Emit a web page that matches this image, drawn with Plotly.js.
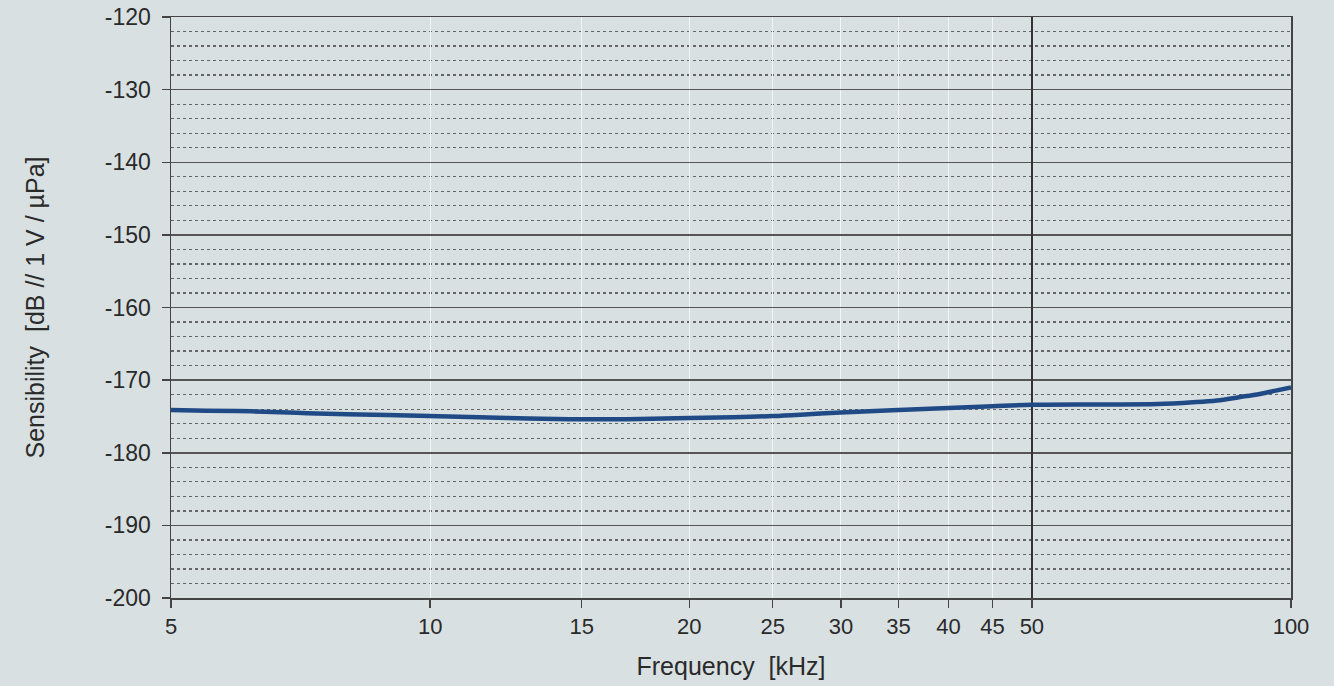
<!DOCTYPE html>
<html>
<head>
<meta charset="utf-8">
<script src="https://cdn.plot.ly/plotly-3.0.1.min.js"></script>
<style>html,body{margin:0;padding:0;background:#d8e0e2;}#chart{width:1334px;height:686px;}</style>
</head>
<body>
<div id="chart"></div>
<script>
const freqKHz = [5, 5.5, 6.2, 7.0, 8.0, 9.7, 11.4, 13.0, 15, 17.5, 20, 22.5, 25, 27.5, 30, 35, 40, 45, 50, 60, 70, 77, 82, 87, 92, 96, 100];
const sensDb  = [-174.1, -174.2, -174.3, -174.5, -174.7, -174.9, -175.1, -175.3, -175.4, -175.35, -175.2, -175.1, -174.95, -174.7, -174.45, -174.1, -173.85, -173.6, -173.4, -173.35, -173.3, -173.05, -172.8, -172.35, -171.9, -171.45, -171.0];
const xTicks = [5, 10, 15, 20, 25, 30, 35, 40, 45, 50, 100];
const yTicks = [-200, -190, -180, -170, -160, -150, -140, -130, -120];
const yTickLabels = ['-200', '-190', '-180', '-170', '-160', '-150', '-140', '-130', '-120'];

const font = {family: 'Liberation Sans, Arial, sans-serif', color: '#2a2a2a'};
Plotly.newPlot('chart', [
  {x: freqKHz, y: sensDb, type: 'scatter', mode: 'lines', line: {color: '#1f4a85', width: 4.5, shape: 'spline'}, hoverinfo: 'skip', showlegend: false},
  {x: [50, 50], y: [-200, -120], xaxis: 'x2', type: 'scatter', mode: 'lines', line: {color: 'rgba(0,0,0,0)', width: 0}, hoverinfo: 'skip', showlegend: false}
], {
  width: 1334, height: 686,
  paper_bgcolor: '#d8e0e2', plot_bgcolor: '#d8e0e2',
  margin: {l: 171, r: 43, t: 17, b: 88},
  font: font,
  xaxis: {
    type: 'log', range: [Math.log10(5), Math.log10(100)],
    tickvals: xTicks, ticktext: xTicks.map(String),
    ticks: 'outside', ticklen: 8, tickcolor: '#444', tickwidth: 1.5,
    tickfont: {size: 22, color: '#2a2a2a'},
    showgrid: true, gridcolor: '#f2f5f5', gridwidth: 1,
    showline: true, linecolor: '#444', linewidth: 1.5, mirror: true,
    zeroline: false,
    title: {text: 'Frequency\u00a0\u00a0[kHz]', font: {size: 25, color: '#2a2a2a'}, standoff: 19}
  },
  xaxis2: {
    type: 'log', range: [Math.log10(5), Math.log10(100)], overlaying: 'x',
    tickvals: [50], showticklabels: false, ticks: '',
    showgrid: true, gridcolor: '#333', gridwidth: 1.5, zeroline: false
  },
  yaxis: {
    range: [-200, -120], tickvals: yTicks, ticktext: yTickLabels,
    ticks: 'outside', ticklen: 8, tickcolor: '#444', tickwidth: 1.5,
    ticklabelstandoff: 6,
    tickfont: {size: 23, color: '#2a2a2a'},
    showgrid: true, gridcolor: '#555', gridwidth: 1.5,
    minor: {dtick: 2, showgrid: true, gridcolor: '#666', griddash: 'dot', gridwidth: 1.3, ticks: ''},
    showline: true, linecolor: '#444', linewidth: 1.5, mirror: true,
    zeroline: false,
    title: {text: 'Sensibility\u00a0\u00a0[dB // 1 V / \u00b5Pa]', font: {size: 25, color: '#2a2a2a'}, standoff: 53}
  }
}, {displayModeBar: false, staticPlot: true});
</script>
</body>
</html>
